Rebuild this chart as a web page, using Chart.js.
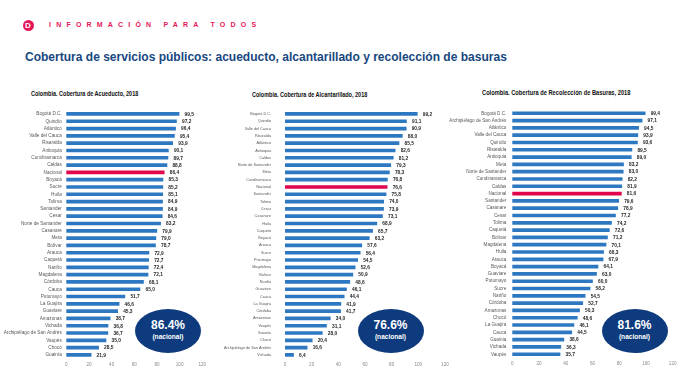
<!DOCTYPE html>
<html><head><meta charset="utf-8">
<script src="https://cdn.jsdelivr.net/npm/chart.js@4.4.1/dist/chart.umd.min.js"></script>
<style>
html,body{margin:0;padding:0;width:678px;height:381px;overflow:hidden;background:#fff;}
body{position:relative;font-family:"Liberation Sans",Arial,sans-serif;}
.abs{position:absolute;white-space:nowrap;}
canvas{position:absolute;top:100px;}
#logo{left:22.5px;top:19.8px;width:11px;height:11px;border-radius:50%;background:#E5175A;color:#fff;font:bold 8px "Liberation Sans",Arial,sans-serif;text-align:center;line-height:11px;}
#brand{left:49px;top:21px;font:bold 7px "Liberation Sans",Arial,sans-serif;letter-spacing:5.2px;color:#E5175A;}
#title{left:25px;top:49px;font:bold 13px "Liberation Sans",Arial,sans-serif;color:#17477F;transform:scaleX(0.925);transform-origin:0 0;}
.ct{font:bold 6.4px "Liberation Sans",Arial,sans-serif;color:#111;top:90px;transform-origin:0 0;}
.bub{position:absolute;background:#0D3B7D;border-radius:50%;color:#fff;text-align:center;z-index:5;}
.bub .big{position:absolute;left:0;right:0;top:9px;font:bold 12px "Liberation Sans",Arial,sans-serif;line-height:14px;}
.bub .small{position:absolute;left:0;right:0;top:24px;font:bold 6.6px "Liberation Sans",Arial,sans-serif;line-height:8px;}
</style></head>
<body>
<div id="logo" class="abs">D</div>
<div id="brand" class="abs">INFORMACIÓN PARA TODOS</div>
<div id="title" class="abs">Cobertura de servicios públicos: acueducto, alcantarillado y recolección de basuras</div>
<div class="abs ct" style="left:30.5px;transform:scaleX(0.86);">Colombia. Cobertura de Acueducto, 2018</div>
<div class="abs ct" style="left:251.5px;top:90.5px;transform:scaleX(0.86);">Colombia. Cobertura de Alcantarillado, 2018</div>
<div class="abs ct" style="left:482px;top:89px;transform:scaleX(0.895);">Colombia. Cobertura de Recolección de Basuras, 2018</div>

<canvas id="c1" width="240" height="281" style="left:0px"></canvas>
<canvas id="c2" width="260" height="281" style="left:205px"></canvas>
<canvas id="c3" width="250" height="281" style="left:440px"></canvas>

<div class="bub" style="left:135px;top:308.5px;width:66px;height:44px;"><div class="big">86.4%</div><div class="small">(nacional)</div></div>
<div class="bub" style="left:357.5px;top:309px;width:66px;height:44px;"><div class="big">76.6%</div><div class="small">(nacional)</div></div>
<div class="bub" style="left:601.5px;top:309px;width:66px;height:44px;"><div class="big">81.6%</div><div class="small">(nacional)</div></div>

<script>
const xTickValues = [0, 20, 40, 60, 80, 100, 120];

const acueductoLabels = ["Bogotá D.C.","Quindío","Atlántico","Valle del Cauca","Risaralda","Antioquia","Cundinamarca","Caldas","Nacional","Boyacá","Sucre","Huila","Tolima","Santander","Cesar","Norte de Santander","Casanare","Meta","Bolívar","Arauca","Caquetá","Nariño","Magdalena","Córdoba","Cauca","Putumayo","La Guajira","Guaviare","Amazonas","Vichada","Archipiélago de San Andrés","Vaupés","Chocó","Guainía"];
const acueductoValues = [99.5,97.2,96.4,95.4,93.9,90.1,89.7,88.8,86.4,85.3,85.2,85.1,84.9,84.9,84.6,83.2,79.9,79.0,78.7,72.9,72.7,72.4,72.1,68.1,65.0,51.7,46.6,45.3,38.7,36.8,36.7,35.0,28.5,21.9];

const alcantarilladoLabels = ["Bogotá D.C.","Quindío","Valle del Cauca","Risaralda","Atlántico","Antioquia","Caldas","Norte de Santander","Meta","Cundinamarca","Nacional","Santander","Tolima","Cesar","Casanare","Huila","Caquetá","Boyacá","Arauca","Sucre","Putumayo","Magdalena","Bolívar","Nariño","Guaviare","Cauca","La Guajira","Córdoba","Amazonas","Vaupés","Guainía","Chocó","Archipiélago de San Andrés","Vichada"];
const alcantarilladoValues = [99.2,91.1,90.9,88.0,85.5,82.6,81.2,79.3,78.3,76.8,76.6,75.8,74.0,73.9,73.1,68.9,65.7,63.2,57.6,56.4,54.5,52.6,50.9,48.6,46.1,44.4,41.9,41.7,34.0,31.1,28.0,20.4,16.6,6.4];

const basurasLabels = ["Bogotá D.C.","Archipiélago de San Andrés","Atlántico","Valle del Cauca","Quindío","Risaralda","Antioquia","Meta","Norte de Santander","Cundinamarca","Caldas","Nacional","Santander","Casanare","Cesar","Tolima","Caquetá","Bolívar","Magdalena","Huila","Arauca","Boyacá","Guaviare","Putumayo","Sucre","Nariño","Córdoba","Amazonas","Chocó","La Guajira","Cauca","Guainía","Vichada","Vaupés"];
const basurasValues = [99.4,97.1,94.5,93.9,93.6,89.5,89.0,83.2,83.0,82.2,81.9,81.6,79.6,78.9,77.2,74.2,72.6,71.2,70.1,68.3,67.9,64.1,63.0,60.0,58.2,54.5,52.7,50.3,48.6,46.1,44.5,38.6,36.3,35.7];

const BLUE = '#2E78C2';
const RED = '#E2064B';
const FONT = '"Liberation Sans",Arial,sans-serif';

const valueLabels = {
  id: 'valueLabels',
  afterDatasetsDraw(chart) {
    const ctx = chart.ctx;
    const meta = chart.getDatasetMeta(0);
    const vals = chart.data.datasets[0].data;
    ctx.save();
    ctx.font = 'bold 4.8px ' + FONT;
    ctx.fillStyle = '#262626';
    ctx.textAlign = 'left';
    ctx.textBaseline = 'middle';
    meta.data.forEach((bar, i) => {
      ctx.fillText(vals[i].toFixed(1).replace('.', ','), bar.x + 5.5, bar.y + 0.5);
    });
    ctx.restore();
  }
};

function build(id, labels, values, o) {
  new Chart(document.getElementById(id), {
    type: 'bar',
    data: {
      labels: labels,
      datasets: [{
        data: values,
        backgroundColor: labels.map(l => l === 'Nacional' ? RED : BLUE),
        barThickness: 3,
        borderWidth: 0
      }]
    },
    options: {
      indexAxis: 'y',
      responsive: false,
      animation: false,
      devicePixelRatio: 1,
      layout: { padding: { top: o.padTop, right: o.padRight, bottom: 0, left: 0 } },
      plugins: { legend: { display: false }, tooltip: { enabled: false } },
      scales: {
        x: {
          min: 0, max: 120,
          afterBuildTicks: s => { s.ticks = xTickValues.map(v => ({ value: v })); },
          ticks: { font: { size: 4.6, family: FONT }, color: '#8A8A8A', padding: 3, maxRotation: 0, minRotation: 0 },
          grid: { display: false, drawTicks: false },
          border: { display: false },
          afterFit: s => { s.height = o.xh; }
        },
        y: {
          ticks: { autoSkip: false, font: { size: o.yFont, family: FONT }, color: '#595959', padding: o.yPad },
          grid: { display: false, drawTicks: false },
          border: { display: false },
          afterFit: s => { s.width = o.yw; s.paddingTop = 2; s.paddingBottom = 2; }
        }
      }
    },
    plugins: [valueLabels]
  });
}

build('c1', acueductoLabels, acueductoValues, { padTop: 10.3, padRight: 240 - 202.3, xh: 22.4, yw: 66.3, yFont: 4.7, yPad: 4.5 });
build('c2', alcantarilladoLabels, alcantarilladoValues, { padTop: 10.3, padRight: 260 - 240, xh: 22.4, yw: 80, yFont: 3.8, yPad: 14 });
build('c3', basurasLabels, basurasValues, { padTop: 9.6, padRight: 250 - 232.7, xh: 23.1, yw: 72.3, yFont: 4.6, yPad: 6 });
</script>
</body></html>
